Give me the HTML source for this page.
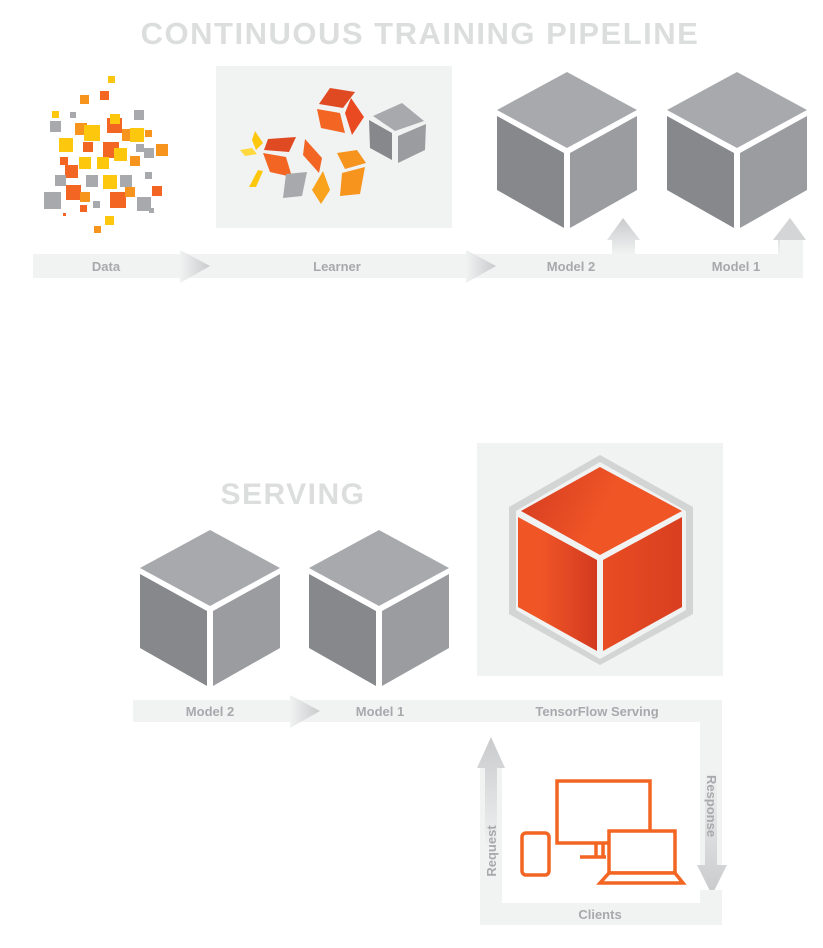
<!DOCTYPE html>
<html><head><meta charset="utf-8"><style>
html,body{margin:0;padding:0;background:#fff;}
svg{display:block;font-family:"Liberation Sans",sans-serif;font-weight:bold;}
</style></head><body>
<svg width="823" height="948" viewBox="0 0 823 948" xmlns="http://www.w3.org/2000/svg">
<defs>
<linearGradient id="ag" x1="0" x2="1" y1="0" y2="0"><stop offset="0" stop-color="#f1f2f2"/><stop offset="1" stop-color="#c9cacc"/></linearGradient>
<linearGradient id="agv" x1="0" x2="0" y1="1" y2="0"><stop offset="0" stop-color="#f1f2f2"/><stop offset="1" stop-color="#c9cacc"/></linearGradient>
<linearGradient id="agd" x1="0" x2="0" y1="0" y2="1"><stop offset="0" stop-color="#f1f2f2"/><stop offset="1" stop-color="#c9cacc"/></linearGradient>
<linearGradient id="ot" x1="0" y1="0" x2="1" y2="0.3"><stop offset="0" stop-color="#d23a20"/><stop offset="0.6" stop-color="#f05526"/></linearGradient>
<linearGradient id="ol" x1="0" y1="0" x2="1" y2="0"><stop offset="0.3" stop-color="#f05526"/><stop offset="1" stop-color="#d23a20"/></linearGradient>
<linearGradient id="or" x1="0" y1="0" x2="1" y2="0"><stop offset="0" stop-color="#e84c23"/><stop offset="1" stop-color="#d93f20"/></linearGradient>
<g id="cube">
<polygon points="0,-78 70,-40 0,-2 -70,-40" fill="#a7a9ac"/>
<polygon points="-70,-34 -3,3 -3,78 -70,40" fill="#86888b"/>
<polygon points="3,3 70,-34 70,40 3,78" fill="#9a9c9f"/>
</g>
</defs>

<text x="420" y="44" text-anchor="middle" font-size="31" fill="#dcdddd" letter-spacing="1.5">CONTINUOUS TRAINING PIPELINE</text>

<!-- top bar -->
<rect x="33" y="254" width="770" height="24" fill="#f1f2f2"/>
<polygon points="180,250 210,266 180,283" fill="url(#ag)"/>
<polygon points="466,250 496,266 466,283" fill="url(#ag)"/>
<polygon points="612,254 612,240 607,240 623,218 640,240 635,240 635,254" fill="url(#agv)"/>
<polygon points="778,254 778,240 773,240 790,218 806,240 801,240 801,254" fill="url(#agv)"/>
<rect x="780" y="240" width="23" height="38" fill="#f1f2f2"/>
<polygon points="773,240 790,218 806,240" fill="#d4d5d6"/>
<text x="106" y="271" text-anchor="middle" font-size="13" fill="#a7a9ac">Data</text>
<text x="337" y="271" text-anchor="middle" font-size="13" fill="#a7a9ac">Learner</text>
<text x="571" y="271" text-anchor="middle" font-size="13" fill="#a7a9ac">Model 2</text>
<text x="736" y="271" text-anchor="middle" font-size="13" fill="#a7a9ac">Model 1</text>

<!-- data scatter -->
<g>
<rect x="108" y="76" width="7" height="7" fill="#fdc70e"/>
<rect x="100" y="91" width="9" height="9" fill="#f26522"/>
<rect x="80" y="95" width="9" height="9" fill="#f7941d"/>
<rect x="52" y="111" width="7" height="7" fill="#fdc70e"/>
<rect x="70" y="112" width="6" height="6" fill="#a7a9ac"/>
<rect x="134" y="110" width="10" height="10" fill="#a7a9ac"/>
<rect x="50" y="121" width="11" height="11" fill="#a7a9ac"/>
<rect x="75" y="123" width="12" height="12" fill="#f7941d"/>
<rect x="84" y="125" width="16" height="16" fill="#fdc70e"/>
<rect x="107" y="118" width="15" height="15" fill="#f26522"/>
<rect x="110" y="114" width="10" height="10" fill="#fdc70e"/>
<rect x="122" y="129" width="12" height="12" fill="#f7941d"/>
<rect x="130" y="128" width="14" height="14" fill="#fdc70e"/>
<rect x="59" y="138" width="14" height="14" fill="#fdc70e"/>
<rect x="83" y="142" width="10" height="10" fill="#f26522"/>
<rect x="103" y="142" width="16" height="16" fill="#f26522"/>
<rect x="114" y="148" width="13" height="13" fill="#fdc70e"/>
<rect x="136" y="144" width="8" height="8" fill="#a7a9ac"/>
<rect x="145" y="130" width="7" height="7" fill="#f7941d"/>
<rect x="156" y="144" width="12" height="12" fill="#f7941d"/>
<rect x="79" y="157" width="12" height="12" fill="#fdc70e"/>
<rect x="97" y="157" width="12" height="12" fill="#fdc70e"/>
<rect x="130" y="156" width="10" height="10" fill="#f7941d"/>
<rect x="144" y="148" width="10" height="10" fill="#a7a9ac"/>
<rect x="60" y="157" width="8" height="8" fill="#f26522"/>
<rect x="65" y="165" width="13" height="13" fill="#f26522"/>
<rect x="55" y="175" width="11" height="11" fill="#a7a9ac"/>
<rect x="86" y="175" width="12" height="12" fill="#a7a9ac"/>
<rect x="103" y="175" width="14" height="14" fill="#fdc70e"/>
<rect x="120" y="175" width="12" height="12" fill="#a7a9ac"/>
<rect x="145" y="172" width="7" height="7" fill="#a7a9ac"/>
<rect x="152" y="186" width="10" height="10" fill="#f26522"/>
<rect x="66" y="185" width="15" height="15" fill="#f26522"/>
<rect x="80" y="192" width="10" height="10" fill="#f7941d"/>
<rect x="110" y="192" width="16" height="16" fill="#f26522"/>
<rect x="125" y="187" width="10" height="10" fill="#f7941d"/>
<rect x="137" y="197" width="14" height="14" fill="#a7a9ac"/>
<rect x="44" y="192" width="17" height="17" fill="#a7a9ac"/>
<rect x="93" y="201" width="7" height="7" fill="#a7a9ac"/>
<rect x="80" y="205" width="7" height="7" fill="#f26522"/>
<rect x="105" y="216" width="9" height="9" fill="#fdc70e"/>
<rect x="94" y="226" width="7" height="7" fill="#f7941d"/>
<rect x="63" y="213" width="3" height="3" fill="#f26522"/>
<rect x="149" y="208" width="5" height="5" fill="#a7a9ac"/>
</g>

<!-- learner -->
<rect x="216" y="66" width="236" height="162" fill="#f1f2f2"/>
<g>
<polygon points="330,88 355,92 343,108 319,104" fill="#e04a22"/>
<polygon points="317,109 340,113 345,133 321,128" fill="#f26522"/>
<polygon points="351,98 364,117 352,135 345,113" fill="#ea4a22"/>
<polygon points="373,116 402,103 424,121 395,131" fill="#a7a9ac"/>
<polygon points="369,120 392,133 392,160 370,148" fill="#86888b"/>
<polygon points="398,136 426,124 425,150 398,163" fill="#9a9c9f"/>
<polygon points="268,139 296,137 289,152 264,150" fill="#e04a22"/>
<polygon points="263,153 286,157 292,177 270,172" fill="#f26522"/>
<polygon points="286,174 307,172 302,196 283,198" fill="#a7a9ac"/>
<polygon points="305,139 322,158 319,173 303,155" fill="#f26522"/>
<polygon points="337,153 357,150 366,163 345,169" fill="#f7941d"/>
<polygon points="342,173 365,167 360,194 340,196" fill="#f7941d"/>
<polygon points="323,171 330,190 321,204 312,190" fill="#f9a21b"/>
<polygon points="255,131 263,143 256,150 252,140" fill="#fdc70e"/>
<polygon points="240,150 252,148 257,154 245,156" fill="#ffd93d"/>
<polygon points="258,170 263,171 256,187 249,187" fill="#fdc70e"/>
</g>

<!-- top cubes -->
<use href="#cube" transform="translate(567,150)"/>
<use href="#cube" transform="translate(737,150)"/>

<!-- SERVING -->
<text x="293" y="504" text-anchor="middle" font-size="30" fill="#dcdddd" letter-spacing="1.5">SERVING</text>
<use href="#cube" transform="translate(210,608)"/>
<use href="#cube" transform="translate(379,608)"/>

<rect x="477" y="443" width="246" height="233" fill="#f1f2f2"/>
<polygon points="600,455 693,507 693,614 600,665 509,614 509,507" fill="#d3d4d4"/>
<polygon points="600,462 686,511 686,610 600,659 516,610 516,511" fill="#f1f2f2"/>
<polygon points="600,467 682,511 600,555 521,511" fill="url(#ot)"/>
<polygon points="518,517 597,560 597,651 518,607" fill="url(#ol)"/>
<polygon points="603,560 682,517 682,607 603,651" fill="url(#or)"/>

<!-- bottom bars -->
<rect x="133" y="700" width="589" height="22" fill="#f1f2f2"/>
<polygon points="290,695 320,711 290,728" fill="url(#ag)"/>
<rect x="700" y="700" width="22" height="165" fill="#f1f2f2"/>
<polygon points="705,770 717,770 717,865 727,865 712,895 697,865 705,865" fill="url(#agd)"/>
<rect x="480" y="903" width="242" height="22" fill="#f1f2f2"/>
<rect x="700" y="890" width="22" height="35" fill="#f1f2f2"/>
<rect x="480" y="768" width="22" height="157" fill="#f1f2f2"/>
<polygon points="485,850 497,850 497,768 505,768 491,737 477,768 485,768" fill="url(#agv)"/>
<text x="210" y="716" text-anchor="middle" font-size="13" fill="#a7a9ac">Model 2</text>
<text x="380" y="716" text-anchor="middle" font-size="13" fill="#a7a9ac">Model 1</text>
<text x="597" y="716" text-anchor="middle" font-size="13" fill="#a7a9ac">TensorFlow Serving</text>
<text x="600" y="919" text-anchor="middle" font-size="13" fill="#a7a9ac">Clients</text>
<text transform="translate(496,851) rotate(-90)" text-anchor="middle" font-size="13" fill="#a7a9ac">Request</text>
<text transform="translate(707,806) rotate(90)" text-anchor="middle" font-size="13" fill="#a7a9ac">Response</text>

<!-- client icons -->
<g fill="none" stroke="#f26522" stroke-width="3.5">
<rect x="557" y="781" width="93" height="62"/>
<rect x="522" y="833" width="27" height="42" rx="4"/>
<line x1="596" y1="843" x2="596" y2="856"/>
<line x1="603" y1="843" x2="603" y2="856"/>
<line x1="580" y1="857" x2="606" y2="857"/>
<rect x="609" y="831" width="66" height="42" fill="#fff"/>
<polygon points="609,873 675,873 683,883 600,883" fill="#fff"/>
</g>
</svg>
</body></html>
